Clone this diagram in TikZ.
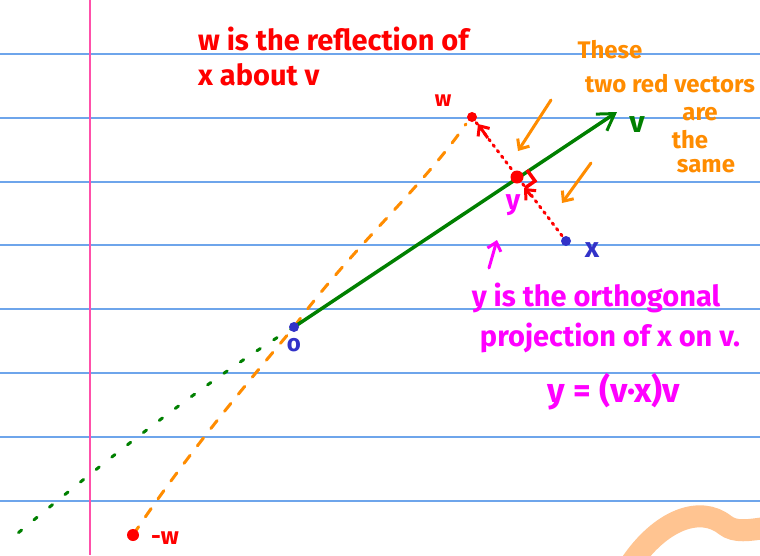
\documentclass[tikz,border=0pt]{standalone}
\usepackage{fontspec}
\setmainfont{Fira Sans}
\usetikzlibrary{arrows.meta,calc}
\definecolor{rule}{RGB}{110,165,235}
\definecolor{margin}{RGB}{255,80,170}
\definecolor{inkred}{RGB}{255,0,0}
\definecolor{inkorange}{RGB}{255,140,0}
\definecolor{inkgreen}{RGB}{0,128,0}
\definecolor{inkblue}{RGB}{50,50,200}
\definecolor{inkmag}{RGB}{255,0,255}
\definecolor{peach}{RGB}{255,196,145}
\newcommand{\fs}[1]{\fontsize{#1}{#1}\selectfont\bfseries}
\begin{document}
\begin{tikzpicture}[x=1pt,y=-1pt,
  ruleline/.style={rule,line width=1.2pt},
  dotpt/.style={circle,inner sep=0pt,minimum size=10pt},
  lbl/.style={inner sep=0pt,anchor=center},
  hand/.style={line width=3pt,line cap=round},
  barb/.style={-{Straight Barb[length=8pt,width=14pt,line width=3pt]}}]
\useasboundingbox (0,0) rectangle (760,555);
\fill[white] (0,0) rectangle (760,555);
\foreach \yy in {54,118,182,245,309,373,437,501}
  \draw[ruleline] (0,\yy) -- (760,\yy);
\draw[margin,line width=1.2pt] (90,0) -- (90,555);

% peach scribble
\draw[peach,line width=22pt,line cap=round] (630,565) .. controls (660,520) and (700,505) .. (725,525) .. controls (735,533) and (750,530) .. (765,528);

% points
\coordinate (O) at (294,327);
\coordinate (V) at (617,112);
\coordinate (W) at (472,117);
\coordinate (X) at (566,241);
\coordinate (Y) at (517,177);
\coordinate (MW) at (133,535);
\coordinate (G) at (12,538);
\coordinate (wtip) at (478,124);
\coordinate (ytip) at (524,188);

% green dotted extension
\draw[inkgreen,line width=3pt,line cap=round,dash pattern=on 4pt off 16pt] (O) .. controls (200,385) and (100,465) .. (G);
% orange dashed line from -w through O to w
\draw[inkorange,line width=3pt,line cap=round,dash pattern=on 10pt off 12pt] (MW) .. controls (190,450) and (250,380) .. (O) .. controls (350,250) and (420,190) .. (466,124);

% green vector v
\draw[inkgreen,line width=3.5pt,-{Straight Barb[length=16pt,width=20pt,line width=3pt]}] (O) -- (V);

% red dotted vectors
\draw[inkred,line width=3pt,line cap=round,dash pattern=on 2pt off 5pt] (W) -- (X);
\draw[inkred,line width=3pt,barb] ($(Y)!0.3!(X)$) -- (ytip);
\draw[inkred,line width=3pt,barb] ($(W)!0.35!(Y)$) -- (wtip);
% right angle mark
\draw[inkred,line width=3.5pt] (527,170) -- (535,181) -- (525,188);

% dots
\node[dotpt,fill=inkred] (wdot) at (W) {};
\node[dotpt,fill=inkred,minimum size=13pt] (ydot) at (Y) {};
\node[dotpt,fill=inkblue] (xdot) at (X) {};
\node[dotpt,fill=inkblue] (odot) at (O) {};
\node[dotpt,fill=inkred,minimum size=12pt] (mwdot) at (MW) {};

% point labels
\node[lbl,inkred,font=\fs{22}] (wl) at (443,101) {w};
\node[lbl,inkblue,font=\fs{28}] (xl) at (592,250) {x};
\node[lbl,inkmag,font=\fs{28}] (yl) at (513,205) {y};
\node[lbl,inkblue,font=\fs{24}] (ol) at (294,345) {o};
\node[lbl,inkgreen,font=\fs{30}] (vl) at (637,125) {v};
\node[lbl,inkred,font=\fs{24}] (mwl) at (165,538) {-w};

% orange arrows
\draw[inkorange,hand,barb] (551,100) -- (518,151);
\draw[inkorange,hand,barb] (591,163) -- (562,203);
% magenta arrow
\draw[inkmag,hand,barb] (489,268) -- (497,240);

% texts
\node[lbl,anchor=west,inkred,font=\fs{29}] (t1) at (198,39) {w is the reflection of};
\node[lbl,anchor=west,inkred,font=\fs{29}] (t2) at (198,75) {x about v};
\node[lbl,inkorange,font=\fs{24}] (o1) at (610,50) {These};
\node[lbl,inkorange,font=\fs{24}] (o2) at (670,84) {two red vectors};
\node[lbl,inkorange,font=\fs{24}] (o3) at (700,114) {are};
\node[lbl,inkorange,font=\fs{24}] (o4) at (690,140) {the};
\node[lbl,inkorange,font=\fs{24}] (o5) at (706,166) {same};
\node[lbl,inkmag,font=\fs{29}] (m1) at (596,298) {y is the orthogonal};
\node[lbl,inkmag,font=\fs{29}] (m2) at (610,338) {projection of x on v.};
\node[lbl,inkmag,font=\fs{34}] (m3) at (614,392) {y = (v·x)v};
\end{tikzpicture}
\end{document}
